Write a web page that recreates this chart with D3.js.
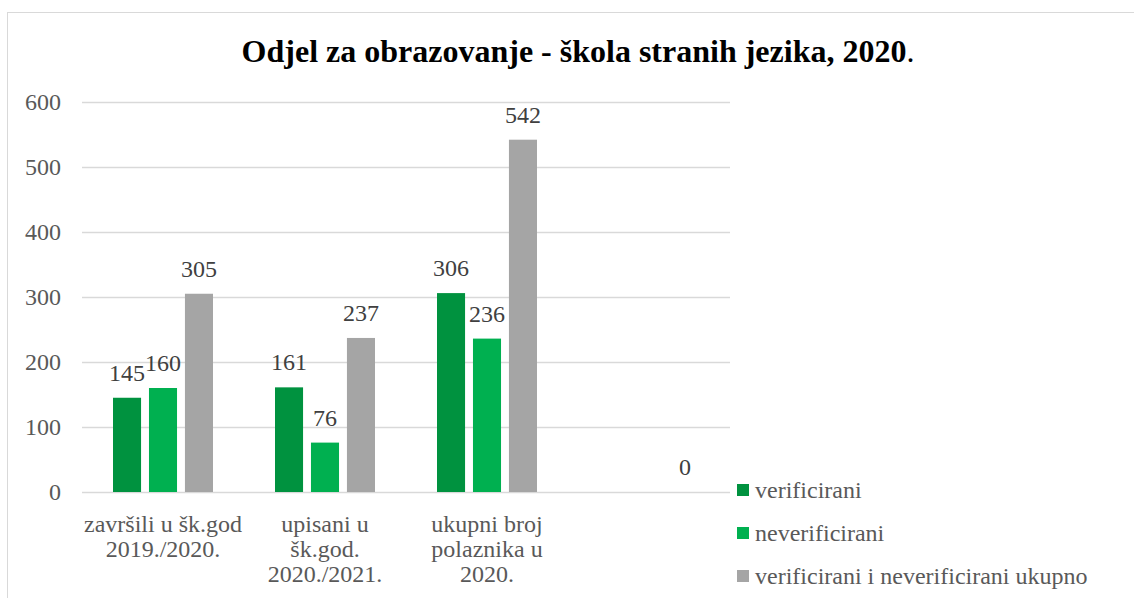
<!DOCTYPE html>
<html>
<head>
<meta charset="utf-8">
<script src="https://cdn.jsdelivr.net/npm/d3@7"></script>
<style>
  body { margin: 0; background: #fff; }
  svg text { font-family: "Liberation Serif", "Times New Roman", serif; }
</style>
</head>
<body>
<div id="chart"></div>
<script>
const width = 1134;
const height = 598;

const categories = [
  ["završili u šk.god", "2019./2020."],
  ["upisani u", "šk.god.", "2020./2021."],
  ["ukupni broj", "polaznika u", "2020."],
  [""]
];
const seriesNames = ["verificirani", "neverificirani", "verificirani i neverificirani ukupno"];
const verificirani = [145, 161, 306, null];
const neverificirani = [160, 76, 236, null];
const ukupno = [305, 237, 542, 0];
const yTicks = [0, 100, 200, 300, 400, 500, 600];
const colors = ["#00923f", "#00b050", "#a5a5a5"];

const seriesValues = [verificirani, neverificirani, ukupno];
const serif = "'Liberation Serif', 'Times New Roman', serif";

const svg = d3.select("#chart")
  .append("svg")
  .attr("width", width)
  .attr("height", height);

// chart border
svg.append("rect")
  .attr("x", 7.5)
  .attr("y", 12.5)
  .attr("width", width + 20)
  .attr("height", height + 20)
  .attr("fill", "white")
  .attr("stroke", "#d9d9d9");

const x0 = d3.scaleBand()
  .domain(d3.range(categories.length))
  .range([82, 730]);

const x1 = d3.scaleBand()
  .domain(d3.range(seriesNames.length))
  .range([31, 131])
  .paddingInner(0.22);

const y = d3.scaleLinear()
  .domain([0, 600])
  .range([492, 102]);

// title
const title = svg.append("text")
  .attr("x", 578)
  .attr("y", 62)
  .attr("text-anchor", "middle")
  .style("font-family", serif)
  .attr("font-size", 32)
  .attr("fill", "#000");
title.append("tspan").attr("font-weight", "bold").text("Odjel za obrazovanje - škola stranih jezika, 2020");
title.append("tspan").text(".");

// gridlines
svg.append("g")
  .selectAll("line")
  .data(yTicks)
  .enter().append("line")
  .attr("x1", 82)
  .attr("x2", 730)
  .attr("y1", d => y(d) + 0.5)
  .attr("y2", d => y(d) + 0.5)
  .attr("stroke", "#d9d9d9")
  .attr("stroke-width", 1.5);

// y axis labels
const yAxis = d3.axisLeft(y).tickValues(yTicks).tickSize(0).tickPadding(0);
svg.append("g")
  .attr("transform", "translate(61,0)")
  .call(yAxis)
  .call(g => g.select(".domain").remove())
  .call(g => g.selectAll("text")
    .attr("font-size", 24)
    .style("font-family", serif)
    .attr("fill", "#595959"));

// bars
const groups = svg.append("g")
  .selectAll("g")
  .data(categories.map((c, i) => i))
  .enter().append("g")
  .attr("transform", i => `translate(${x0(i)},0)`);

groups.selectAll("rect")
  .data(i => seriesValues.map((s, k) => ({ k: k, v: s[i] })).filter(d => d.v !== null))
  .enter().append("rect")
  .attr("x", d => x1(d.k))
  .attr("width", x1.bandwidth())
  .attr("y", d => y(d.v))
  .attr("height", d => y(0) - y(d.v))
  .attr("fill", d => colors[d.k]);

groups.selectAll("text.val")
  .data(i => seriesValues.map((s, k) => ({ k: k, v: s[i] })).filter(d => d.v !== null))
  .enter().append("text")
  .attr("class", "val")
  .attr("x", d => x1(d.k) + x1.bandwidth() / 2)
  .attr("y", d => y(d.v) - 17)
  .attr("text-anchor", "middle")
  .style("font-family", serif)
  .attr("font-size", 24)
  .attr("fill", "#404040")
  .text(d => d.v);

// category labels
const catLabels = svg.append("g")
  .selectAll("text")
  .data(categories)
  .enter().append("text")
  .attr("x", (d, i) => x0(i) + x0.bandwidth() / 2)
  .attr("y", 532)
  .attr("text-anchor", "middle")
  .style("font-family", serif)
  .attr("font-size", 24)
  .attr("fill", "#595959");

catLabels.selectAll("tspan")
  .data(d => d)
  .enter().append("tspan")
  .attr("x", function() { return d3.select(this.parentNode).attr("x"); })
  .attr("dy", (d, i) => i === 0 ? 0 : 25)
  .text(d => d);

// legend
const legend = svg.append("g")
  .selectAll("g")
  .data(seriesNames)
  .enter().append("g")
  .attr("transform", (d, i) => `translate(737,${490 + i * 43})`);

legend.append("rect")
  .attr("x", 0)
  .attr("y", -6)
  .attr("width", 12)
  .attr("height", 12)
  .attr("fill", (d, i) => colors[i]);

legend.append("text")
  .attr("x", 18)
  .attr("y", 8)
  .style("font-family", serif)
  .attr("font-size", 24)
  .attr("fill", "#595959")
  .text(d => d);
</script>
</body>
</html>
